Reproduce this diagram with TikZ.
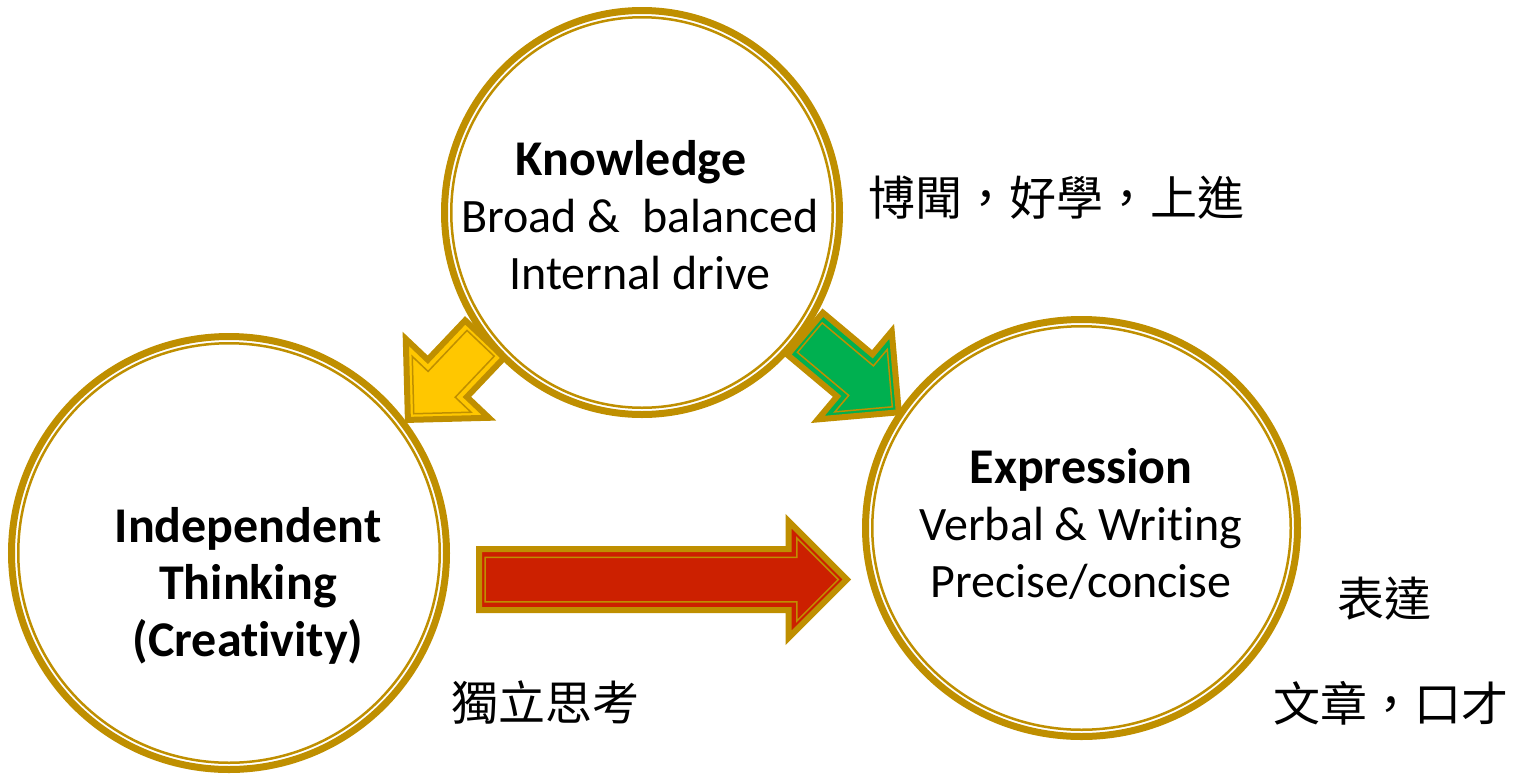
\documentclass[tikz,border=0pt]{standalone}
\usepackage{fontspec}
\setmainfont{Carlito}[Ligatures=NoCommon]
\newfontfamily\cjk{Noto Sans CJK TC}
\usepackage{tikz}
\usetikzlibrary{positioning,calc,shapes.geometric,shapes.arrows}
\definecolor{ringgold}{RGB}{191,143,0}
\definecolor{arrowyellow}{RGB}{255,199,0}
\definecolor{arrowgreen}{RGB}{0,176,80}
\definecolor{arrowred}{RGB}{204,32,0}
\newcommand{\ringhead}[1]{{\bfseries\fontsize{50}{57}\selectfont #1}}
\tikzstyle{ring}=[ellipse, draw=ringgold, line width=7pt, fill=white, inner sep=0pt, outer sep=0pt]
\tikzstyle{ringline}=[draw=ringgold, line width=2.5pt]
\tikzstyle{txt}=[align=center, inner sep=0pt, font=\fontsize{48}{57}\selectfont]
\tikzstyle{cjktxt}=[inner sep=0pt, font=\cjk\fontsize{47}{57}\selectfont]
\tikzstyle{fatarrow}=[single arrow, draw=ringgold, line width=6pt, inner xsep=0pt, outer sep=0pt, anchor=tip]
\tikzstyle{fatline}=[single arrow, draw=ringgold, line width=1.5pt, inner xsep=0pt, outer sep=0pt, anchor=tip]

\begin{document}
\begin{tikzpicture}[x=1pt,y=-1pt]
	\useasboundingbox (0,0) rectangle (1520,774);
	% block arrows
	\node[fatarrow, fill=arrowyellow, rotate=226.5, minimum height=111.6pt, inner ysep=24pt, single arrow head extend=30.3pt] (k2i) at (407.9,419.9) {};
	\node[fatline, rotate=226.5, minimum height=97.1pt, inner ysep=18pt, single arrow head extend=21.8pt] (k2iline) at ($(k2i.tip)!8.5pt!(k2i.tail)$) {};
	\node[fatarrow, fill=arrowgreen, rotate=-40, minimum height=122.2pt, inner ysep=24.5pt, single arrow head extend=30pt] (k2e) at (898.8,412.3) {};
	\node[fatline, rotate=-40, minimum height=107.7pt, inner ysep=18.5pt, single arrow head extend=21.5pt] (k2eline) at ($(k2e.tip)!8.5pt!(k2e.tail)$) {};
	\node[fatarrow, fill=arrowred, minimum height=367.8pt, inner ysep=27.5pt, single arrow head extend=27.8pt] (i2e) at (846.8,579.5) {};
	\node[fatline, minimum height=353.3pt, inner ysep=21.5pt, single arrow head extend=19.3pt] (i2eline) at ($(i2e.tip)!8.5pt!(i2e.tail)$) {};
	% circles
	\node[ring, minimum width=395pt, minimum height=404pt] (know) at (642,212.5) {};
	\node[ring, minimum width=435pt, minimum height=433pt] (indep) at (229,553) {};
	\node[ring, minimum width=432pt, minimum height=417pt] (expr) at (1081.5,528) {};
	\draw[ringline] (know.center) ellipse [x radius=190.75pt, y radius=195.25pt];
	\draw[ringline] (indep.center) ellipse [x radius=210.75pt, y radius=209.75pt];
	\draw[ringline] (expr.center) ellipse [x radius=209.25pt, y radius=201.75pt];
	% texts
	\node[txt] (knowtxt) at (640,215) {\ringhead{Knowledge}\hspace*{18pt}\\Broad \&~ balanced\\Internal drive};
	\node[txt] (indeptxt) at (248,586) {\ringhead{Independent}\\\ringhead{Thinking}\\\ringhead{(Creativity)}};
	\node[txt] (exprtxt) at (1081,524) {\ringhead{Expression}\\Verbal \& Writing\\Precise/concise};
	\node[cjktxt] (knowcjk) at (1056,198) {博聞，好學，上進};
	\node[cjktxt] (indepcjk) at (545,703) {獨立思考};
	\node[cjktxt] (exprcjk) at (1384,599) {表達};
	\node[cjktxt] (exprcjk2) at (1391,703) {文章，口才};
\end{tikzpicture}
\end{document}
